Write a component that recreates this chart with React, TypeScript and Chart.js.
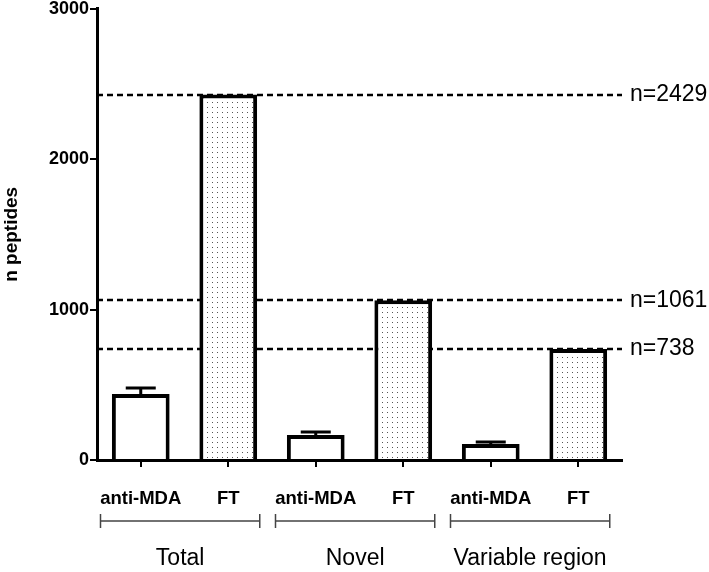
import React, { useEffect, useRef } from "react";
import { Chart, registerables } from "chart.js";

Chart.register(...registerables);

const categories = ["anti-MDA", "FT", "anti-MDA", "FT", "anti-MDA", "FT"];
const values = [438, 2429, 166, 1061, 106, 738];
const errors = [40, 0, 20, 0, 13, 0];
const groups = ["Total", "Novel", "Variable region"];
const refLines = [2429, 1061, 738];
const refLabels = ["n=2429", "n=1061", "n=738"];
const yTicks = [0, 1000, 2000, 3000];

const FONT = "'Liberation Sans', Arial, Helvetica, sans-serif";

function makePattern(): CanvasPattern | string {
  const c = document.createElement("canvas");
  c.width = 5;
  c.height = 5;
  const g = c.getContext("2d");
  if (!g) return "#eee";
  g.fillStyle = "#ffffff";
  g.fillRect(0, 0, 5, 5);
  g.fillStyle = "#555555";
  g.fillRect(2, 2, 1, 1);
  const p = g.createPattern(c, "repeat");
  return p || "#eee";
}

export default function App() {
  const ref = useRef<HTMLCanvasElement | null>(null);

  useEffect(() => {
    if (!ref.current) return;
    const pattern = makePattern();
    const fills = categories.map((c) => (c === "FT" ? pattern : "#ffffff"));

    const overlay = {
      id: "overlay",
      beforeDatasetsDraw(chart: any) {
        const { ctx, chartArea, scales } = chart;
        const y = scales.y;
        ctx.save();
        ctx.strokeStyle = "#000";
        ctx.lineWidth = 2.5;
        ctx.setLineDash([6, 4]);
        refLines.forEach((v) => {
          const py = Math.round(y.getPixelForValue(v));
          ctx.beginPath();
          ctx.moveTo(chartArea.left, py);
          ctx.lineTo(chartArea.right, py);
          ctx.stroke();
        });
        ctx.restore();
      },
      afterDatasetsDraw(chart: any) {
        const { ctx, chartArea, scales } = chart;
        const x = scales.x;
        const y = scales.y;
        ctx.save();
        // error bars
        ctx.strokeStyle = "#000";
        ctx.lineWidth = 3;
        values.forEach((v, i) => {
          const e = errors[i];
          if (!e) return;
          const px = x.getPixelForValue(i);
          const top = y.getPixelForValue(v + e);
          const base = y.getPixelForValue(v);
          ctx.beginPath();
          ctx.moveTo(px, base);
          ctx.lineTo(px, top);
          ctx.moveTo(px - 15, top);
          ctx.lineTo(px + 15, top);
          ctx.stroke();
        });
        // ref labels
        ctx.fillStyle = "#000";
        ctx.font = `23px ${FONT}`;
        ctx.textAlign = "left";
        ctx.textBaseline = "middle";
        refLines.forEach((v, i) => {
          ctx.fillText(refLabels[i], chartArea.right + 8, y.getPixelForValue(v));
        });
        // group brackets
        const step = x.getPixelForValue(1) - x.getPixelForValue(0);
        const by = chartArea.bottom + 61;
        ctx.strokeStyle = "#444";
        ctx.lineWidth = 1.5;
        ctx.font = `23px ${FONT}`;
        ctx.textAlign = "center";
        groups.forEach((g, gi) => {
          const l = x.getPixelForValue(gi * 2) - step * 0.46;
          const r = x.getPixelForValue(gi * 2 + 1) + step * 0.36;
          ctx.beginPath();
          ctx.moveTo(l, by);
          ctx.lineTo(r, by);
          ctx.moveTo(l, by - 7);
          ctx.lineTo(l, by + 7);
          ctx.moveTo(r, by - 7);
          ctx.lineTo(r, by + 7);
          ctx.stroke();
          ctx.fillStyle = "#000";
          ctx.fillText(g, (l + r) / 2, by + 38);
        });
        ctx.restore();
      },
    };

    const chart = new Chart(ref.current, {
      type: "bar",
      data: {
        labels: categories,
        datasets: [
          {
            data: values,
            backgroundColor: fills as any,
            borderColor: "#000",
            borderWidth: 4,
            borderSkipped: "start",
            barPercentage: 0.66,
            categoryPercentage: 1,
          },
        ],
      },
      options: {
        responsive: false,
        animation: false,
        layout: { padding: { left: 0, right: 87, top: 8, bottom: 0 } },
        plugins: { legend: { display: false }, tooltip: { enabled: false } },
        scales: {
          x: {
            grid: {
              display: true,
              drawOnChartArea: false,
              drawTicks: true,
              tickLength: 7,
              offset: false,
              color: "#000",
              lineWidth: 2,
            },
            border: { display: true, color: "#000", width: 3 },
            ticks: {
              color: "#000",
              font: { family: FONT, size: 18.5, weight: "bold" },
              padding: 21,
              maxRotation: 0,
              autoSkip: false,
            },
            afterFit(scale: any) {
              scale.height = 112;
            },
          },
          y: {
            min: 0,
            max: 3000,
            afterBuildTicks(scale: any) {
              scale.ticks = yTicks.map((v) => ({ value: v }));
            },
            grid: {
              drawOnChartArea: false,
              drawTicks: true,
              tickLength: 7,
              color: "#000",
              lineWidth: 2,
            },
            border: { display: true, color: "#000", width: 3 },
            ticks: {
              color: "#000",
              font: { family: FONT, size: 18, weight: "bold", lineHeight: 0.85 },
              padding: 1,
              callback: (v: any) => String(v),
            },
            title: {
              display: true,
              text: "n peptides",
              color: "#000",
              font: { family: FONT, size: 19, weight: "bold" },
              padding: { top: 0, bottom: 0 },
            },
            afterFit(scale: any) {
              scale.width = 97;
            },
          },
        },
      },
      plugins: [overlay],
    });
    return () => chart.destroy();
  }, []);

  return (
    <div style={{ position: "fixed", left: 0, top: 0, width: 709, height: 572, background: "#fff" }}>
      <canvas ref={ref} width={709} height={572} style={{ display: "block" }} />
    </div>
  );
}
